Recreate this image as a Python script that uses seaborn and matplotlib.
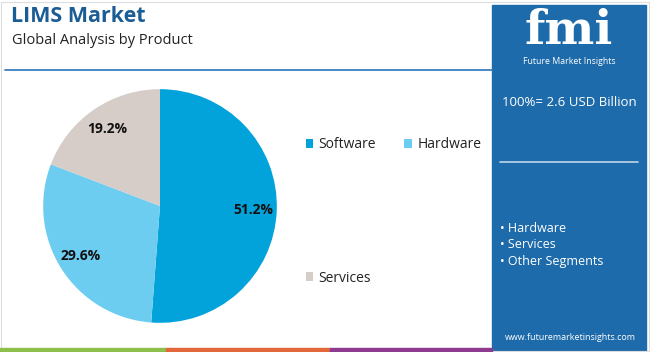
"""
LIMS Market - global analysis by product (pie + side panel).
"""

import matplotlib
matplotlib.use("Agg")
import matplotlib.pyplot as plt
from matplotlib.patches import Rectangle
import seaborn as sns

PRODUCTS = ["Software", "Hardware", "Services"]
SHARES = [51.2, 29.6, 19.2]
COLORS = ["#02A2DB", "#6DCDF1", "#D6CCC8"]
TOTAL_LABEL = "100%= 2.6 USD Billion"
SIDE_SEGMENTS = ["Hardware", "Services", "Other Segments"]

TITLE_BLUE = "#1A5C94"
PANEL_BLUE = "#1D6BAA"

sns.set_theme(style="white")
plt.rcParams["font.family"] = ["Open Sans", "DejaVu Sans"]

W, H = 650, 352
fig = plt.figure(figsize=(W / 100, H / 100), dpi=100)


def fx(px):
    return px / W


def fy(py):
    return 1 - py / H


# thin frame around everything
fig.patches.append(Rectangle((fx(1), fy(351)), fx(648), 349 / H, transform=fig.transFigure,
                             fill=False, edgecolor="#DDDDDD", linewidth=0.8))

# title
fig.text(fx(11), fy(17), "LIMS Market", fontsize=15.5, fontweight="bold",
         color=TITLE_BLUE, va="center", ha="left")
fig.text(fx(12), fy(41), "Global Analysis by Product", fontsize=10.5,
         color="#222222", va="center", ha="left")
fig.add_artist(plt.Line2D([fx(5), fx(492)], [fy(70), fy(70)], color="#3B7FC0",
                          linewidth=1.3, transform=fig.transFigure))

# pie
ax = fig.add_axes([fx(42), fy(324), fx(236), 236 / H])
wedges, _, autotexts = ax.pie(
    SHARES, colors=COLORS, startangle=90, counterclock=False,
    autopct="%.1f%%", pctdistance=0.8,
    textprops={"fontsize": 10, "fontweight": "bold", "color": "#111111"},
    wedgeprops={"linewidth": 0},
)
ax.set_xlim(-1.01, 1.01)
ax.set_ylim(-1.01, 1.01)
ax.set_aspect("equal")
ax.axis("off")

# legend fills column-wise: Software / Services in col 1, Hardware in col 2
order = [0, 2, 1]
fig.legend([wedges[i] for i in order], [PRODUCTS[i] for i in order], ncol=2,
           loc="upper left", bbox_to_anchor=(fx(293), fy(125)), frameon=False,
           fontsize=10, handlelength=0.55, handleheight=0.55,
           handletextpad=0.4, columnspacing=2.0, labelspacing=8.5,
           labelcolor="#222222")

# side panel
fig.patches.append(Rectangle((fx(492), 0), fx(154), fy(5), transform=fig.transFigure,
                             color=PANEL_BLUE, zorder=0))
fig.text(fx(569), fy(31), "fmi", fontsize=34, fontweight="bold", color="white",
         family="DejaVu Serif", ha="center", va="center")
fig.text(fx(569), fy(61), "Future Market Insights", fontsize=6.3, color="white",
         ha="center", va="center")
fig.text(fx(569), fy(103), TOTAL_LABEL, fontsize=9.5, color="white",
         ha="center", va="center")
fig.add_artist(plt.Line2D([fx(500), fx(638)], [fy(162), fy(162)], color="#BFD6EA",
                          linewidth=1.2, transform=fig.transFigure))
for i, seg in enumerate(SIDE_SEGMENTS):
    fig.text(fx(500), fy(228 + 17 * i), "\u2022 " + seg, fontsize=9, color="white",
             ha="left", va="center")
fig.text(fx(570), fy(337), "www.futuremarketinsights.com", fontsize=6.4, color="white",
         ha="center", va="center")

# bottom color stripe
for x0, x1, c in [(0, 166, "#8CC04B"), (166, 330, "#E2673A"), (330, 492, "#8E3A90")]:
    fig.patches.append(Rectangle((fx(x0), 0), fx(x1 - x0), 4 / H,
                                 transform=fig.transFigure, color=c))

fig.savefig("out.png", dpi=100)
